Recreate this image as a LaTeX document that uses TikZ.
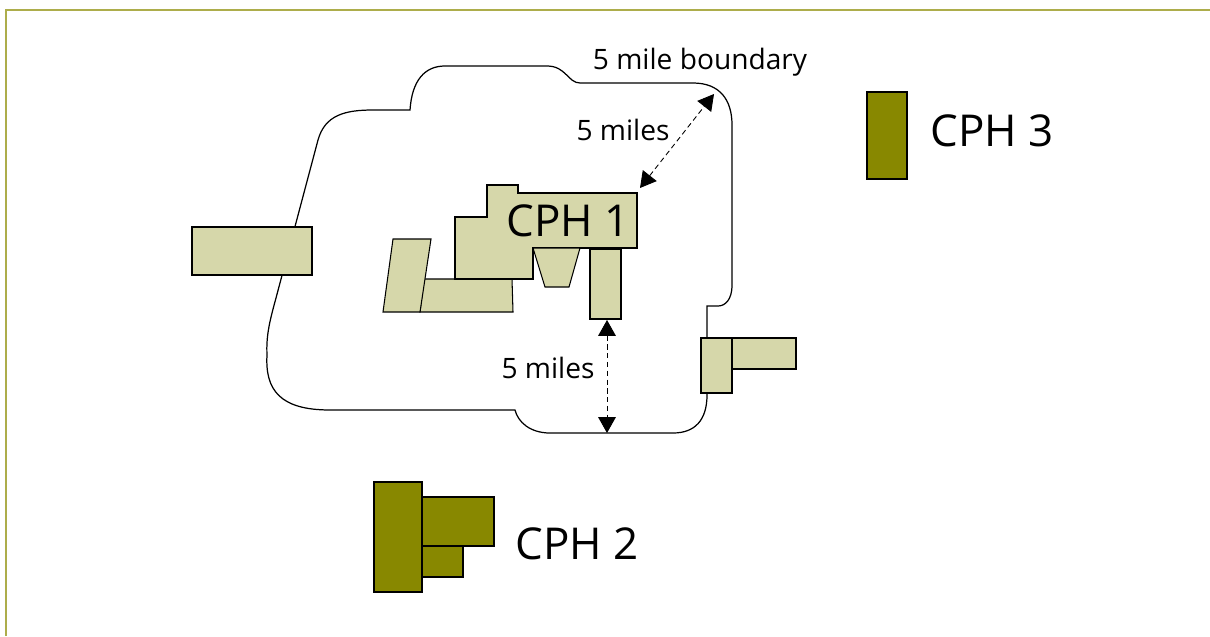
\documentclass[tikz,border=0pt]{standalone}
\usepackage{xcolor}
\usepackage{fontspec}
\setmainfont{Open Sans}
\usetikzlibrary{arrows.meta}

\definecolor{pale}{HTML}{D6D7AA}
\definecolor{olivedark}{HTML}{888800}
\definecolor{frameline}{HTML}{ADAD4B}

\begin{document}
\begin{tikzpicture}[x=0.02cm,y=-0.02cm,
		site/.style={draw=black,fill=pale,line width=0.6pt},
		cph/.style={draw=black,fill=olivedark,line width=0.6pt},
		dist/.style={dash pattern=on 3pt off 2pt,line width=0.5pt,
			{Triangle[length=9pt,width=10pt]}-{Triangle[length=9pt,width=10pt]}},
		small/.style={font=\fontsize{16}{18}\selectfont},
		big/.style={font=\fontsize{25}{28}\selectfont}]
		\useasboundingbox (0,0) rectangle (1210,636);
		\draw[frameline,line width=1.2pt] (6,636) -- (6,10) -- (1210,10);
		
		% 5 mile boundary
		\draw[line width=0.7pt] (373,110) -- (410,110)
		.. controls (412,80) and (425,66) .. (445,66) -- (547,66)
		.. controls (566,66) and (568,83) .. (580,83) -- (693,83)
		.. controls (720,83) and (732,100) .. (732,125) -- (732,285)
		.. controls (732,300) and (725,306) .. (718,306) -- (707,306) -- (707,395)
		.. controls (707,420) and (695,433) .. (673,433) -- (550,433)
		.. controls (530,433) and (518,422) .. (515,410) -- (330,410)
		.. controls (280,410) and (265,390) .. (267,355)
		.. controls (266,335) and (270,320) .. (276,298) -- (318,140)
		.. controls (325,115) and (345,110) .. (373,110);
		
		% CPH 1
		\filldraw[site] (420,312) -- (424,279) -- (512,279) -- (513,312) -- cycle;
		\filldraw[site] (383,312) -- (393,239) -- (431,239) -- (420,312) -- cycle;
		\filldraw[site] (487,185) -- (518,185) -- (518,193) -- (637,193) -- (637,248)
		-- (533,248) -- (533,279) -- (455,279) -- (455,217) -- (487,217) -- cycle;
		\filldraw[site] (533,248) -- (580,248) -- (569,287) -- (545,287) -- cycle;
		\filldraw[site] (590,249) rectangle (621,319);
		\node[big] (cph1) at (568,221) {CPH 1};
		
		% parcels on the boundary
		\filldraw[site] (192,227) rectangle (312,275);
		\filldraw[site] (701,338) rectangle (732,393);
		\filldraw[site] (732,338) rectangle (796,369);
		
		% CPH 2 and CPH 3
		\filldraw[cph] (374,482) rectangle (422,592);
		\filldraw[cph] (422,497) rectangle (494,546);
		\filldraw[cph] (422,546) rectangle (463,577);
		\node[big] (cph2) at (577,544) {CPH 2};
		\filldraw[cph] (867,92) rectangle (907,179);
		\node[big] (cph3) at (992,131) {CPH 3};
		
		% distances
		\coordinate (edgeA) at (714,94);
		\coordinate (siteA) at (640,188);
		\coordinate (siteB) at (607,320);
		\coordinate (edgeB) at (607,433);
		\draw[dist] (siteA) -- (edgeA);
		\draw[dist] (siteB) -- (edgeB);
		
		\node[small] (bndlbl) at (700,62) {5 mile boundary};
		\node[small] (milesA) at (623,130) {5 miles};
		\node[small] (milesB) at (548,368) {5 miles};
	\end{tikzpicture}
\end{document}
